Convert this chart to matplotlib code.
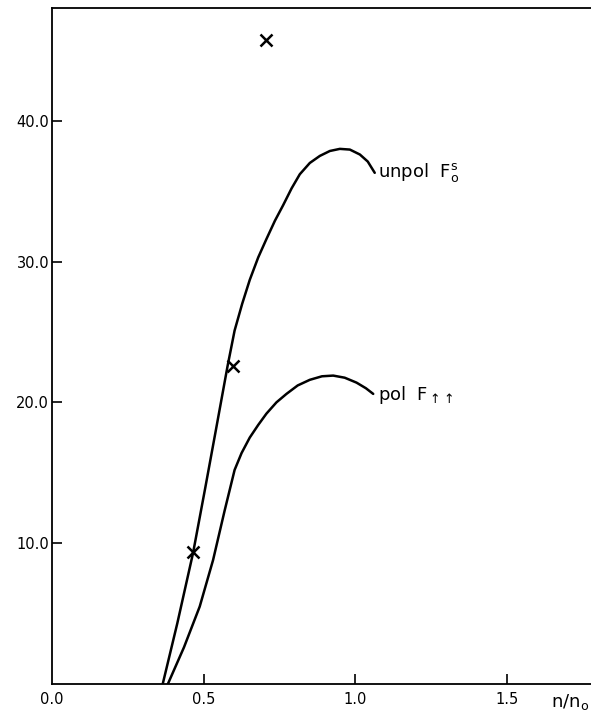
import matplotlib
matplotlib.use("Agg")
import matplotlib.pyplot as plt
import matplotlib.transforms as mtransforms

plt.rcParams['mathtext.fontset'] = 'dejavusans'

# unpolarized F_o^s curve
unpol_x = [0.365, 0.413, 0.465, 0.505, 0.540, 0.579, 0.602, 0.627, 0.652,
           0.680, 0.707, 0.735, 0.762, 0.790, 0.817, 0.850, 0.883, 0.916,
           0.949, 0.982, 1.015, 1.041, 1.064]
unpol_y = [0.0, 4.3, 9.3, 13.9, 18.0, 22.6, 25.1, 27.0, 28.7,
           30.3, 31.6, 32.9, 34.0, 35.2, 36.2, 37.0, 37.5, 37.85,
           38.0, 37.95, 37.6, 37.1, 36.3]

# polarized F_up-up curve
pol_x = [0.382, 0.435, 0.487, 0.531, 0.569, 0.602, 0.625, 0.652, 0.680,
         0.707, 0.740, 0.773, 0.810, 0.850, 0.890, 0.927, 0.965, 1.004,
         1.035, 1.059]
pol_y = [0.0, 2.6, 5.5, 8.8, 12.3, 15.2, 16.4, 17.5, 18.4,
         19.2, 20.0, 20.6, 21.2, 21.6, 21.85, 21.9, 21.75, 21.4,
         21.0, 20.6]

# isolated points
pts_x = [0.464, 0.596, 0.705]
pts_y = [9.4, 22.6, 45.7]

xticks = [0.0, 0.5, 1.0, 1.5]
xtick_labels = ["0.0", "0.5", "1.0", "1.5"]
yticks = [10, 20, 30, 40]
ytick_labels = ["10.0", "20.0", "30.0", "40.0"]

fig = plt.figure(figsize=(5.91, 7.13), dpi=100)
ax = fig.add_axes([0.088, 0.0407, 0.912, 0.948])

ax.plot(unpol_x, unpol_y, color="black", lw=1.8,
        solid_capstyle="round", solid_joinstyle="round")
ax.plot(pol_x, pol_y, color="black", lw=1.8,
        solid_capstyle="round", solid_joinstyle="round")
ax.plot(pts_x, pts_y, ls="none", marker="x", color="black", ms=9, mew=1.8)

ax.set_xlim(0, 1.777)
ax.set_ylim(0, 48)
ax.set_xticks(xticks)
ax.set_xticklabels(xtick_labels)
ax.set_yticks(yticks)
ax.set_yticklabels(ytick_labels)
ax.tick_params(direction="in", length=7, width=1.2, labelsize=10.5, pad=2)
ax.tick_params(axis="x", pad=6)
ax.xaxis.get_major_ticks()[0].tick1line.set_visible(False)
ax.spines["right"].set_visible(False)
for side in ["left", "bottom", "top"]:
    ax.spines[side].set_linewidth(1.3)

ax.text(1.075, 36.3, r"unpol  $\mathrm{F}_\mathrm{o}^\mathrm{s}$",
        fontsize=13, va="center", ha="left")
ax.text(1.075, 20.5, r"pol  $\mathrm{F}_{\uparrow\!\uparrow}$",
        fontsize=13, va="center", ha="left")

trans = mtransforms.blended_transform_factory(ax.transData, ax.transAxes)
ax.text(1.77, -0.012, r"n/n$_\mathrm{o}$", transform=trans,
        fontsize=13, ha="right", va="top")

fig.savefig("out.png", dpi=100)
